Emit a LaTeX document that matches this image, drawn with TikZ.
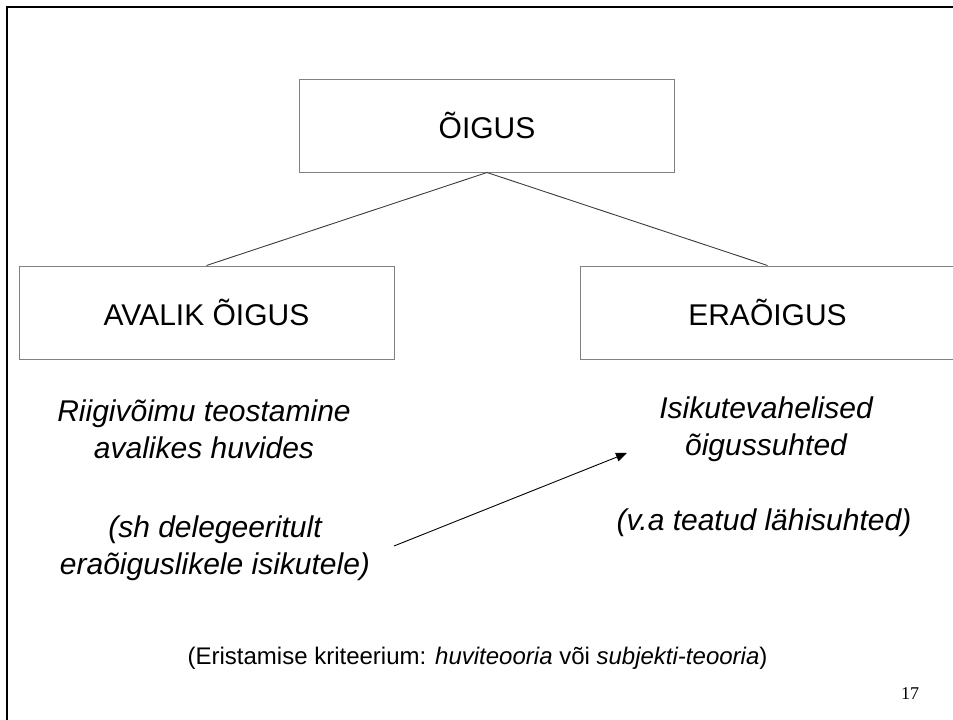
\documentclass[tikz,border=0pt]{standalone}
\definecolor{boxgray}{RGB}{128, 128, 128}
\definecolor{linegray}{RGB}{60, 60, 60}
\usepackage{fontspec}
\setmainfont{Liberation Sans}
\newfontfamily\pagenumfont{Liberation Serif}
\usepackage{tikz}
\usetikzlibrary{arrows.meta, positioning}

\begin{document}
\begin{tikzpicture}[x=1pt, y=-1pt,
  lawbox/.style={draw=boxgray, line width=1pt, minimum width=375pt, minimum height=93pt, inner sep=0pt, font=\fontsize{30}{36}\selectfont},
  lawtext/.style={align=center, font=\fontsize{30}{37}\selectfont\itshape}]
  \useasboundingbox (0, 0) rectangle (953, 720);

  % slide frame
  \draw[line width=2.5pt] (7, 720) -- (7, 7) -- (953, 7);

  % boxes
  \node[lawbox] (oigus) at (487, 125.5) {ÕIGUS};
  \node[lawbox] (avalik) at (206.5, 312.5) {AVALIK ÕIGUS};
  \node[lawbox] (era) at (767.5, 312.5) {ERAÕIGUS};

  % tree lines
  \draw[linegray, line width=0.9pt] (oigus.south) -- (avalik.north);
  \draw[linegray, line width=0.9pt] (oigus.south) -- (era.north);

  % left side
  \node[lawtext] (avalikdef) at (204, 429.5) {Riigivõimu teostamine\\avalikes huvides};
  \node[lawtext] (avaliksh) at (215, 548) {(sh delegeeritult\\eraõiguslikele isikutele)};

  % right side
  \node[lawtext] (eradef) at (766, 429.5) {Isikutevahelised\\õigussuhted};
  \node[lawtext] (erava) at (764, 523) {(v.a teatud lähisuhted)};

  % arrow
  \coordinate (arrfrom) at (394, 546);
  \coordinate (arrto) at (627, 453);
  \draw[line width=0.9pt, -{Triangle[length=11pt, width=9pt]}] (arrfrom) -- (arrto);

  % criterion
  \node[font=\fontsize{24}{28}\selectfont] (kriteerium) at (477.5, 658) {(Eristamise kriteerium: \textit{huviteooria} või \textit{subjekti-teooria})};
  \node[font=\fontsize{18}{20}\selectfont\pagenumfont] (pagenum) at (910, 694) {17};
\end{tikzpicture}
\end{document}
